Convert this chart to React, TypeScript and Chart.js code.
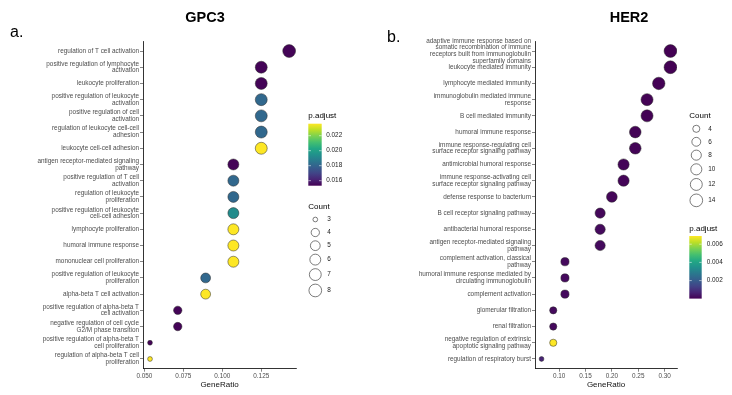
import React, { useEffect, useRef } from "react";
import { Chart, registerables } from "chart.js";

Chart.register(...registerables);

const FONT = "'Liberation Sans', Arial, Helvetica, sans-serif";

// ---------------- GPC3 data ----------------
const gpc3Terms = [
  "regulation of T cell activation",
  "positive regulation of lymphocyte\nactivation",
  "leukocyte proliferation",
  "positive regulation of leukocyte\nactivation",
  "positive regulation of cell\nactivation",
  "regulation of leukocyte cell-cell\nadhesion",
  "leukocyte cell-cell adhesion",
  "antigen receptor-mediated signaling\npathway",
  "positive regulation of T cell\nactivation",
  "regulation of leukocyte\nproliferation",
  "positive regulation of leukocyte\ncell-cell adhesion",
  "lymphocyte proliferation",
  "humoral immune response",
  "mononuclear cell proliferation",
  "positive regulation of leukocyte\nproliferation",
  "alpha-beta T cell activation",
  "positive regulation of alpha-beta T\ncell activation",
  "negative regulation of cell cycle\nG2/M phase transition",
  "positive regulation of alpha-beta T\ncell proliferation",
  "regulation of alpha-beta T cell\nproliferation",
];
const gpc3GeneRatio = [
  0.1429, 0.125, 0.125, 0.125, 0.125, 0.125, 0.125,
  0.1071, 0.1071, 0.1071, 0.1071, 0.1071, 0.1071, 0.1071,
  0.0893, 0.0893, 0.0714, 0.0714, 0.0536, 0.0536,
];
const gpc3Count = [8, 7, 7, 7, 7, 7, 7, 6, 6, 6, 6, 6, 6, 6, 5, 5, 4, 4, 3, 3];
const gpc3PAdjust = [
  0.0154, 0.0154, 0.0154, 0.0181, 0.0181, 0.0181, 0.0236,
  0.0154, 0.0181, 0.0181, 0.0193, 0.0236, 0.0236, 0.0236,
  0.0181, 0.0236, 0.0154, 0.0154, 0.0154, 0.0236,
];
const gpc3XTicks = [0.05, 0.075, 0.1, 0.125];
const gpc3XTickLabels = ["0.050", "0.075", "0.100", "0.125"];
const gpc3XRange = [0.0491, 0.1473];
const gpc3PRange = [0.01533, 0.0236];
const gpc3PTicks = [0.016, 0.018, 0.02, 0.022];
const gpc3PTickLabels = ["0.016", "0.018", "0.020", "0.022"];
const gpc3CountLegend = [3, 4, 5, 6, 7, 8];

// ---------------- HER2 data ----------------
const her2Terms = [
  "adaptive immune response based on\nsomatic recombination of immune\nreceptors built from immunoglobulin\nsuperfamily domains",
  "leukocyte mediated immunity",
  "lymphocyte mediated immunity",
  "immunoglobulin mediated immune\nresponse",
  "B cell mediated immunity",
  "humoral immune response",
  "immune response-regulating cell\nsurface receptor signaling pathway",
  "antimicrobial humoral response",
  "immune response-activating cell\nsurface receptor signaling pathway",
  "defense response to bacterium",
  "B cell receptor signaling pathway",
  "antibacterial humoral response",
  "antigen receptor-mediated signaling\npathway",
  "complement activation, classical\npathway",
  "humoral immune response mediated by\ncirculating immunoglobulin",
  "complement activation",
  "glomerular filtration",
  "renal filtration",
  "negative regulation of extrinsic\napoptotic signaling pathway",
  "regulation of respiratory burst",
];
const her2GeneRatio = [
  0.3111, 0.3111, 0.2889, 0.2667, 0.2667, 0.2444, 0.2444, 0.2222, 0.2222, 0.2,
  0.1778, 0.1778, 0.1778, 0.1111, 0.1111, 0.1111, 0.0889, 0.0889, 0.0889, 0.0667,
];
const her2Count = [14, 14, 13, 12, 12, 11, 11, 10, 10, 9, 8, 8, 8, 5, 5, 5, 4, 4, 4, 3];
const her2PAdjust = [
  0.00003, 0.00003, 0.00004, 0.00005, 0.00005, 0.00006, 0.00008, 0.0001, 0.0001, 0.00012,
  0.00015, 0.0002, 0.0002, 0.0002, 0.0002, 0.0002, 0.0002, 0.0002, 0.0069, 0.0007,
];
const her2XTicks = [0.1, 0.15, 0.2, 0.25, 0.3];
const her2XTickLabels = ["0.10", "0.15", "0.20", "0.25", "0.30"];
const her2XRange = [0.0543, 0.3235];
const her2PRange = [0.00002, 0.0069];
const her2PTicks = [0.002, 0.004, 0.006];
const her2PTickLabels = ["0.002", "0.004", "0.006"];
const her2CountLegend = [4, 6, 8, 10, 12, 14];

// ---------------- helpers ----------------
const VIRIDIS = [
  "#440154", "#482475", "#414487", "#355f8d", "#2a788e", "#21918c",
  "#22a884", "#44bf70", "#7ad151", "#bddf26", "#fde725",
];
function hexToRgb(h: string) {
  return [parseInt(h.slice(1, 3), 16), parseInt(h.slice(3, 5), 16), parseInt(h.slice(5, 7), 16)];
}
function viridis(t: number) {
  const tt = Math.max(0, Math.min(1, t));
  const s = tt * 10;
  const i = Math.min(9, Math.floor(s));
  const f = s - i;
  const a = hexToRgb(VIRIDIS[i]);
  const b = hexToRgb(VIRIDIS[i + 1]);
  const c = a.map((v, k) => Math.round(v + (b[k] - v) * f));
  return `rgb(${c[0]},${c[1]},${c[2]})`;
}
// ggplot-like area size scale -> pixel diameter
function diameter(c: number, cmin: number, cmax: number) {
  const size = 1 + 5 * Math.sqrt((c - cmin) / (cmax - cmin));
  return 3.7 + 1.6 * size;
}

type PanelCfg = {
  terms: string[];
  ratio: number[];
  count: number[];
  padj: number[];
  xTicks: number[];
  xTickLabels: string[];
  xRange: number[];
  pRange: number[];
  pTicks: number[];
  pTickLabels: string[];
  countLegend: number[];
  countMin: number;
  countMax: number;
  width: number;
  axisWidth: number;
  padRight: number;
  title: string;
  titleX: number;
  tag: string;
  tagX: number;
  tagY: number;
  countFirst: boolean;
  legendX: number;
  firstTitleY: number;
  secondTitleY: number;
  barWidth: number;
  barHeight: number;
  labelGap: number;
};

const TOP = 41.3;
const XAXIS_H = 26.3;

function drawCountLegend(ctx: CanvasRenderingContext2D, cfg: PanelCfg, x: number, titleY: number) {
  ctx.fillStyle = "#000";
  ctx.font = `8px ${FONT}`;
  ctx.textAlign = "left";
  ctx.textBaseline = "middle";
  ctx.fillText("Count", x, titleY);
  let top = titleY + 6.3;
  const cx = x + 7;
  cfg.countLegend.forEach((c) => {
    const d = diameter(c, cfg.countMin, cfg.countMax);
    const h = Math.max(13, d + 3);
    const cy = top + h / 2;
    ctx.beginPath();
    ctx.arc(cx, cy, d / 2 - 0.3, 0, Math.PI * 2);
    ctx.fillStyle = "#fff";
    ctx.fill();
    ctx.lineWidth = 0.7;
    ctx.strokeStyle = "#444";
    ctx.stroke();
    ctx.fillStyle = "#222";
    ctx.font = `6.4px ${FONT}`;
    ctx.fillText(String(c), x + 19, cy);
    top += h;
  });
}

function drawColorbar(ctx: CanvasRenderingContext2D, cfg: PanelCfg, x: number, titleY: number) {
  ctx.fillStyle = "#000";
  ctx.font = `8px ${FONT}`;
  ctx.textAlign = "left";
  ctx.textBaseline = "middle";
  ctx.fillText("p.adjust", x, titleY);
  const y0 = titleY + 7.7;
  const y1 = y0 + cfg.barHeight;
  const g = ctx.createLinearGradient(0, y1, 0, y0);
  VIRIDIS.forEach((c, i) => g.addColorStop(i / 10, c));
  ctx.fillStyle = g;
  ctx.fillRect(x, y0, cfg.barWidth, cfg.barHeight);
  const [pmin, pmax] = cfg.pRange;
  cfg.pTicks.forEach((p, i) => {
    const y = y1 - ((p - pmin) / (pmax - pmin)) * cfg.barHeight;
    ctx.strokeStyle = "rgba(255,255,255,0.9)";
    ctx.lineWidth = 0.6;
    ctx.beginPath();
    ctx.moveTo(x, y);
    ctx.lineTo(x + cfg.barWidth / 5, y);
    ctx.moveTo(x + cfg.barWidth, y);
    ctx.lineTo(x + cfg.barWidth * 0.8, y);
    ctx.stroke();
    ctx.fillStyle = "#222";
    ctx.font = `6.4px ${FONT}`;
    ctx.fillText(cfg.pTickLabels[i], x + cfg.barWidth + cfg.labelGap, y);
  });
}

function makeChart(canvas: HTMLCanvasElement, cfg: PanelCfg) {
  const [pmin, pmax] = cfg.pRange;
  const bw = 0.5;
  const decorPlugin = {
    id: "decor",
    afterDraw(chart: any) {
      const ctx: CanvasRenderingContext2D = chart.ctx;
      ctx.save();
      ctx.fillStyle = "#000";
      ctx.font = `bold 14.5px ${FONT}`;
      ctx.textAlign = "center";
      ctx.textBaseline = "alphabetic";
      ctx.fillText(cfg.title, cfg.titleX, 21.7);
      ctx.font = `16px ${FONT}`;
      ctx.textAlign = "left";
      ctx.fillText(cfg.tag, cfg.tagX, cfg.tagY);
      if (cfg.countFirst) {
        drawCountLegend(ctx, cfg, cfg.legendX, cfg.firstTitleY);
        drawColorbar(ctx, cfg, cfg.legendX, cfg.secondTitleY);
      } else {
        drawColorbar(ctx, cfg, cfg.legendX, cfg.firstTitleY);
        drawCountLegend(ctx, cfg, cfg.legendX, cfg.secondTitleY);
      }
      ctx.restore();
    },
  };
  return new Chart(canvas, {
    type: "scatter",
    data: {
      datasets: [
        {
          data: cfg.ratio.map((x, i) => ({ x, y: i })),
          backgroundColor: cfg.padj.map((p) => viridis((p - pmin) / (pmax - pmin))),
          borderColor: "#2a2a2a",
          borderWidth: bw,
          pointRadius: cfg.count.map((c) => diameter(c, cfg.countMin, cfg.countMax) / 2 - bw / 2),
          pointHoverRadius: cfg.count.map((c) => diameter(c, cfg.countMin, cfg.countMax) / 2 - bw / 2),
        } as any,
      ],
    },
    options: {
      animation: false,
      responsive: false,
      maintainAspectRatio: false,
      events: [],
      layout: { padding: { top: TOP, right: cfg.padRight, left: 0, bottom: 0 } },
      plugins: { legend: { display: false }, tooltip: { enabled: false } },
      scales: {
        x: {
          type: "linear",
          min: cfg.xRange[0],
          max: cfg.xRange[1],
          afterBuildTicks: (s: any) => {
            s.ticks = cfg.xTicks.map((v) => ({ value: v }));
          },
          afterFit: (s: any) => {
            s.height = XAXIS_H;
          },
          ticks: {
            autoSkip: false,
            maxRotation: 0,
            padding: 1,
            color: "#4d4d4d",
            font: { family: FONT, size: 6.4, lineHeight: 1 },
            callback: (v: any) => {
              const i = cfg.xTicks.findIndex((t) => Math.abs(t - v) < 1e-9);
              return i >= 0 ? cfg.xTickLabels[i] : "";
            },
          },
          grid: { drawOnChartArea: false, drawTicks: true, tickLength: 3, color: "#333", lineWidth: 0.6 },
          border: { display: true, color: "#000", width: 0.8 },
          title: {
            display: true,
            text: "GeneRatio",
            color: "#111",
            font: { family: FONT, size: 8, lineHeight: 1.2 },
            padding: { top: 0, bottom: 5.5 },
          },
        },
        y: {
          type: "linear",
          reverse: true,
          min: -0.6,
          max: cfg.terms.length - 1 + 0.6,
          afterBuildTicks: (s: any) => {
            s.ticks = cfg.terms.map((_, i) => ({ value: i }));
          },
          afterFit: (s: any) => {
            s.width = cfg.axisWidth;
          },
          ticks: {
            autoSkip: false,
            padding: 1,
            color: "#4d4d4d",
            font: { family: FONT, size: 6.4, lineHeight: 1.05 },
            callback: (v: any) => {
              const t = cfg.terms[Math.round(v)];
              return t ? t.split("\n") : "";
            },
          },
          grid: { drawOnChartArea: false, drawTicks: true, tickLength: 3, color: "#333", lineWidth: 0.6 },
          border: { display: true, color: "#000", width: 0.8 },
        },
      },
    } as any,
    plugins: [decorPlugin],
  });
}

const LEFT_W = 375;
const RIGHT_W = 732 - LEFT_W;

const gpc3Cfg: PanelCfg = {
  terms: gpc3Terms,
  ratio: gpc3GeneRatio,
  count: gpc3Count,
  padj: gpc3PAdjust,
  xTicks: gpc3XTicks,
  xTickLabels: gpc3XTickLabels,
  xRange: gpc3XRange,
  pRange: gpc3PRange,
  pTicks: gpc3PTicks,
  pTickLabels: gpc3PTickLabels,
  countLegend: gpc3CountLegend,
  countMin: 3,
  countMax: 8,
  width: LEFT_W,
  axisWidth: 143,
  padRight: LEFT_W - 296,
  title: "GPC3",
  titleX: 205,
  tag: "a.",
  tagX: 10,
  tagY: 37,
  countFirst: false,
  legendX: 308.3,
  firstTitleY: 116,
  secondTitleY: 206.7,
  barWidth: 13.4,
  barHeight: 62,
  labelGap: 4.5,
};

const her2Cfg: PanelCfg = {
  terms: her2Terms,
  ratio: her2GeneRatio,
  count: her2Count,
  padj: her2PAdjust,
  xTicks: her2XTicks,
  xTickLabels: her2XTickLabels,
  xRange: her2XRange,
  pRange: her2PRange,
  pTicks: her2PTicks,
  pTickLabels: her2PTickLabels,
  countLegend: her2CountLegend,
  countMin: 3,
  countMax: 14,
  width: RIGHT_W,
  axisWidth: 535 - LEFT_W,
  padRight: RIGHT_W - (677 - LEFT_W),
  title: "HER2",
  titleX: 629 - LEFT_W,
  tag: "b.",
  tagX: 387 - LEFT_W,
  tagY: 41.5,
  countFirst: true,
  legendX: 689.3 - LEFT_W,
  firstTitleY: 116,
  secondTitleY: 228.3,
  barWidth: 12.4,
  barHeight: 62.6,
  labelGap: 5,
};

function Panel({ cfg, left }: { cfg: PanelCfg; left: number }) {
  const ref = useRef<HTMLCanvasElement | null>(null);
  useEffect(() => {
    if (!ref.current) return;
    const chart = makeChart(ref.current, cfg);
    return () => chart.destroy();
  }, [cfg]);
  return (
    <canvas
      ref={ref}
      width={cfg.width}
      height={395}
      style={{ position: "absolute", left, top: 0, width: cfg.width, height: 395 }}
    />
  );
}

export default function App() {
  return (
    <div
      style={{
        position: "fixed",
        left: 0,
        top: 0,
        width: 732,
        height: 395,
        background: "#fff",
        overflow: "hidden",
      }}
    >
      <Panel cfg={gpc3Cfg} left={0} />
      <Panel cfg={her2Cfg} left={LEFT_W} />
    </div>
  );
}
